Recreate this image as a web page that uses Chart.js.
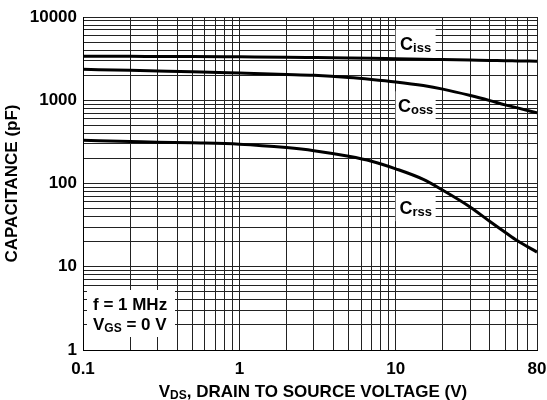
<!DOCTYPE html>
<html>
<head>
<meta charset="utf-8">
<script src="https://cdn.jsdelivr.net/npm/chart.js@4"></script>
<style>
    html, body { margin: 0; padding: 0; background: #fff; }
</style>
</head>
<body>
<canvas id="chart" width="547" height="400"></canvas>
<script>
// Drain-source voltage (V) where the curves were read
const vds = [0.1, 0.2, 0.3, 0.5, 1, 2, 3, 5, 7, 10, 15, 20, 30, 40, 50, 60, 80];

// Capacitance (pF)
const ciss = [3380, 3370, 3360, 3350, 3320, 3290, 3260, 3220, 3190, 3150, 3110, 3080, 3040, 3010, 2990, 2970, 2940];
const coss = [2350, 2290, 2250, 2200, 2120, 2040, 1990, 1880, 1780, 1660, 1500, 1360, 1140, 990, 880, 810, 706];
const crss = [330, 320, 314, 308, 297, 270, 248, 212, 185, 150, 112, 83, 52, 35, 26, 20.5, 15];

// Labelled ticks
const xTickLabels = [0.1, 1, 10, 80];
const yTickLabels = [1, 10, 100, 1000, 10000];

const FONT = "'Liberation Sans', Arial, Helvetica, sans-serif";

// grid lines at every 1..9 step of each decade
function decadeSteps(min, max) {
    const out = [];
    for (let d = min; d < max; d *= 10) {
        for (let k = 1; k < 10; k++) {
            const v = Number((k * d).toPrecision(6));
            if (v <= max) out.push(v);
        }
    }
    if (out[out.length - 1] !== max) out.push(max);
    return out;
}
const xGrid = decadeSteps(0.1, 80);
const yGrid = decadeSteps(1, 10000);

function toPoints(ys) {
    return vds.map((x, i) => ({ x: x, y: ys[i] }));
}

// draws e.g. "C" + subscript "iss", starting at x
function drawSub(ctx, parts, x, y, align) {
    let total = 0;
    parts.forEach(p => {
        ctx.font = `bold ${p.size}px ${FONT}`;
        p.w = ctx.measureText(p.text).width;
        total += p.w;
    });
    let cx = align === 'center' ? x - total / 2 : x;
    ctx.textAlign = 'left';
    ctx.textBaseline = 'alphabetic';
    parts.forEach(p => {
        ctx.font = `bold ${p.size}px ${FONT}`;
        ctx.fillText(p.text, cx, y + (p.dy || 0));
        cx += p.w;
    });
}

const labelPlugin = {
    id: 'labels',
    beforeDatasetsDraw(chart) {
        const ctx = chart.ctx;
        const xs = chart.scales.x, ys = chart.scales.y;
        ctx.save();
        ctx.fillStyle = '#000';

        // curve names in white boxes
        const names = [
            { sub: 'iss', v: 13.4, c: 4850 },
            { sub: 'oss', v: 13.4, c: 870 },
            { sub: 'rss', v: 13.4, c: 52 }
        ];
        names.forEach(n => {
            const px = xs.getPixelForValue(n.v);
            const py = ys.getPixelForValue(n.c);
            ctx.fillStyle = '#fff';
            ctx.fillRect(px - 20, py - 14, 40, 28);
            ctx.fillStyle = '#000';
            drawSub(ctx, [
                { text: 'C', size: 18 },
                { text: n.sub, size: 13, dy: 2 }
            ], px, py + 7, 'center');
        });

        // test conditions box
        const a = chart.chartArea;
        ctx.fillStyle = '#fff';
        ctx.fillRect(a.left + 4, 290, 88, 47);
        ctx.fillStyle = '#000';
        ctx.font = `bold 17px ${FONT}`;
        ctx.textAlign = 'left';
        ctx.fillText('f = 1 MHz', a.left + 10, 310);
        drawSub(ctx, [
            { text: 'V', size: 17 },
            { text: 'GS', size: 12, dy: 2 },
            { text: ' = 0 V', size: 17 }
        ], a.left + 10, 330, 'left');
        ctx.restore();
    },
    afterDraw(chart) {
        const ctx = chart.ctx;
        const a = chart.chartArea;
        ctx.save();
        ctx.fillStyle = '#000';
        drawSub(ctx, [
            { text: 'V', size: 17 },
            { text: 'DS', size: 12, dy: 2 },
            { text: ', DRAIN TO SOURCE VOLTAGE (V)', size: 17 }
        ], (a.left + a.right) / 2 + 3, 397, 'center');
        ctx.restore();
    }
};

const lineStyle = {
    borderColor: '#000',
    borderWidth: 3,
    pointRadius: 0,
    showLine: true,
    fill: false,
    cubicInterpolationMode: 'monotone'
};

new Chart(document.getElementById('chart'), {
    type: 'scatter',
    data: {
        datasets: [
            Object.assign({ label: 'Ciss', data: toPoints(ciss) }, lineStyle),
            Object.assign({ label: 'Coss', data: toPoints(coss) }, lineStyle),
            Object.assign({ label: 'Crss', data: toPoints(crss) }, lineStyle)
        ]
    },
    options: {
        responsive: false,
        animation: false,
        devicePixelRatio: 1,
        layout: { padding: { top: 17, right: 10, left: 0, bottom: 0 } },
        plugins: {
            legend: { display: false },
            tooltip: { enabled: false }
        },
        scales: {
            x: {
                type: 'logarithmic',
                min: 0.1,
                max: 80,
                afterBuildTicks: axis => { axis.ticks = xGrid.map(v => ({ value: v })); },
                afterFit: axis => {
                    axis.height = 50;
                    axis.paddingLeft = 0;
                    axis.paddingRight = 0;
                },
                grid: { color: '#222', lineWidth: 1, drawTicks: false },
                border: { color: '#000', width: 1 },
                ticks: {
                    autoSkip: false,
                    maxRotation: 0,
                    padding: 9,
                    color: '#000',
                    font: { family: FONT, size: 17, weight: 'bold' },
                    callback: v => xTickLabels.includes(v) ? String(v) : ''
                }
            },
            y: {
                type: 'logarithmic',
                min: 1,
                max: 10000,
                afterBuildTicks: axis => { axis.ticks = yGrid.map(v => ({ value: v })); },
                afterFit: axis => {
                    axis.width = 83;
                    axis.paddingTop = 0;
                    axis.paddingBottom = 0;
                },
                grid: { color: '#222', lineWidth: 1, drawTicks: false },
                border: { color: '#000', width: 1 },
                title: {
                    display: true,
                    text: 'CAPACITANCE (pF)',
                    color: '#000',
                    font: { family: FONT, size: 17, weight: 'bold' },
                    padding: { top: 2, bottom: 0 }
                },
                ticks: {
                    autoSkip: false,
                    padding: 6,
                    color: '#000',
                    font: { family: FONT, size: 17, weight: 'bold' },
                    callback: v => yTickLabels.includes(v) ? String(v) : ''
                }
            }
        }
    },
    plugins: [labelPlugin]
});
</script>
</body>
</html>
